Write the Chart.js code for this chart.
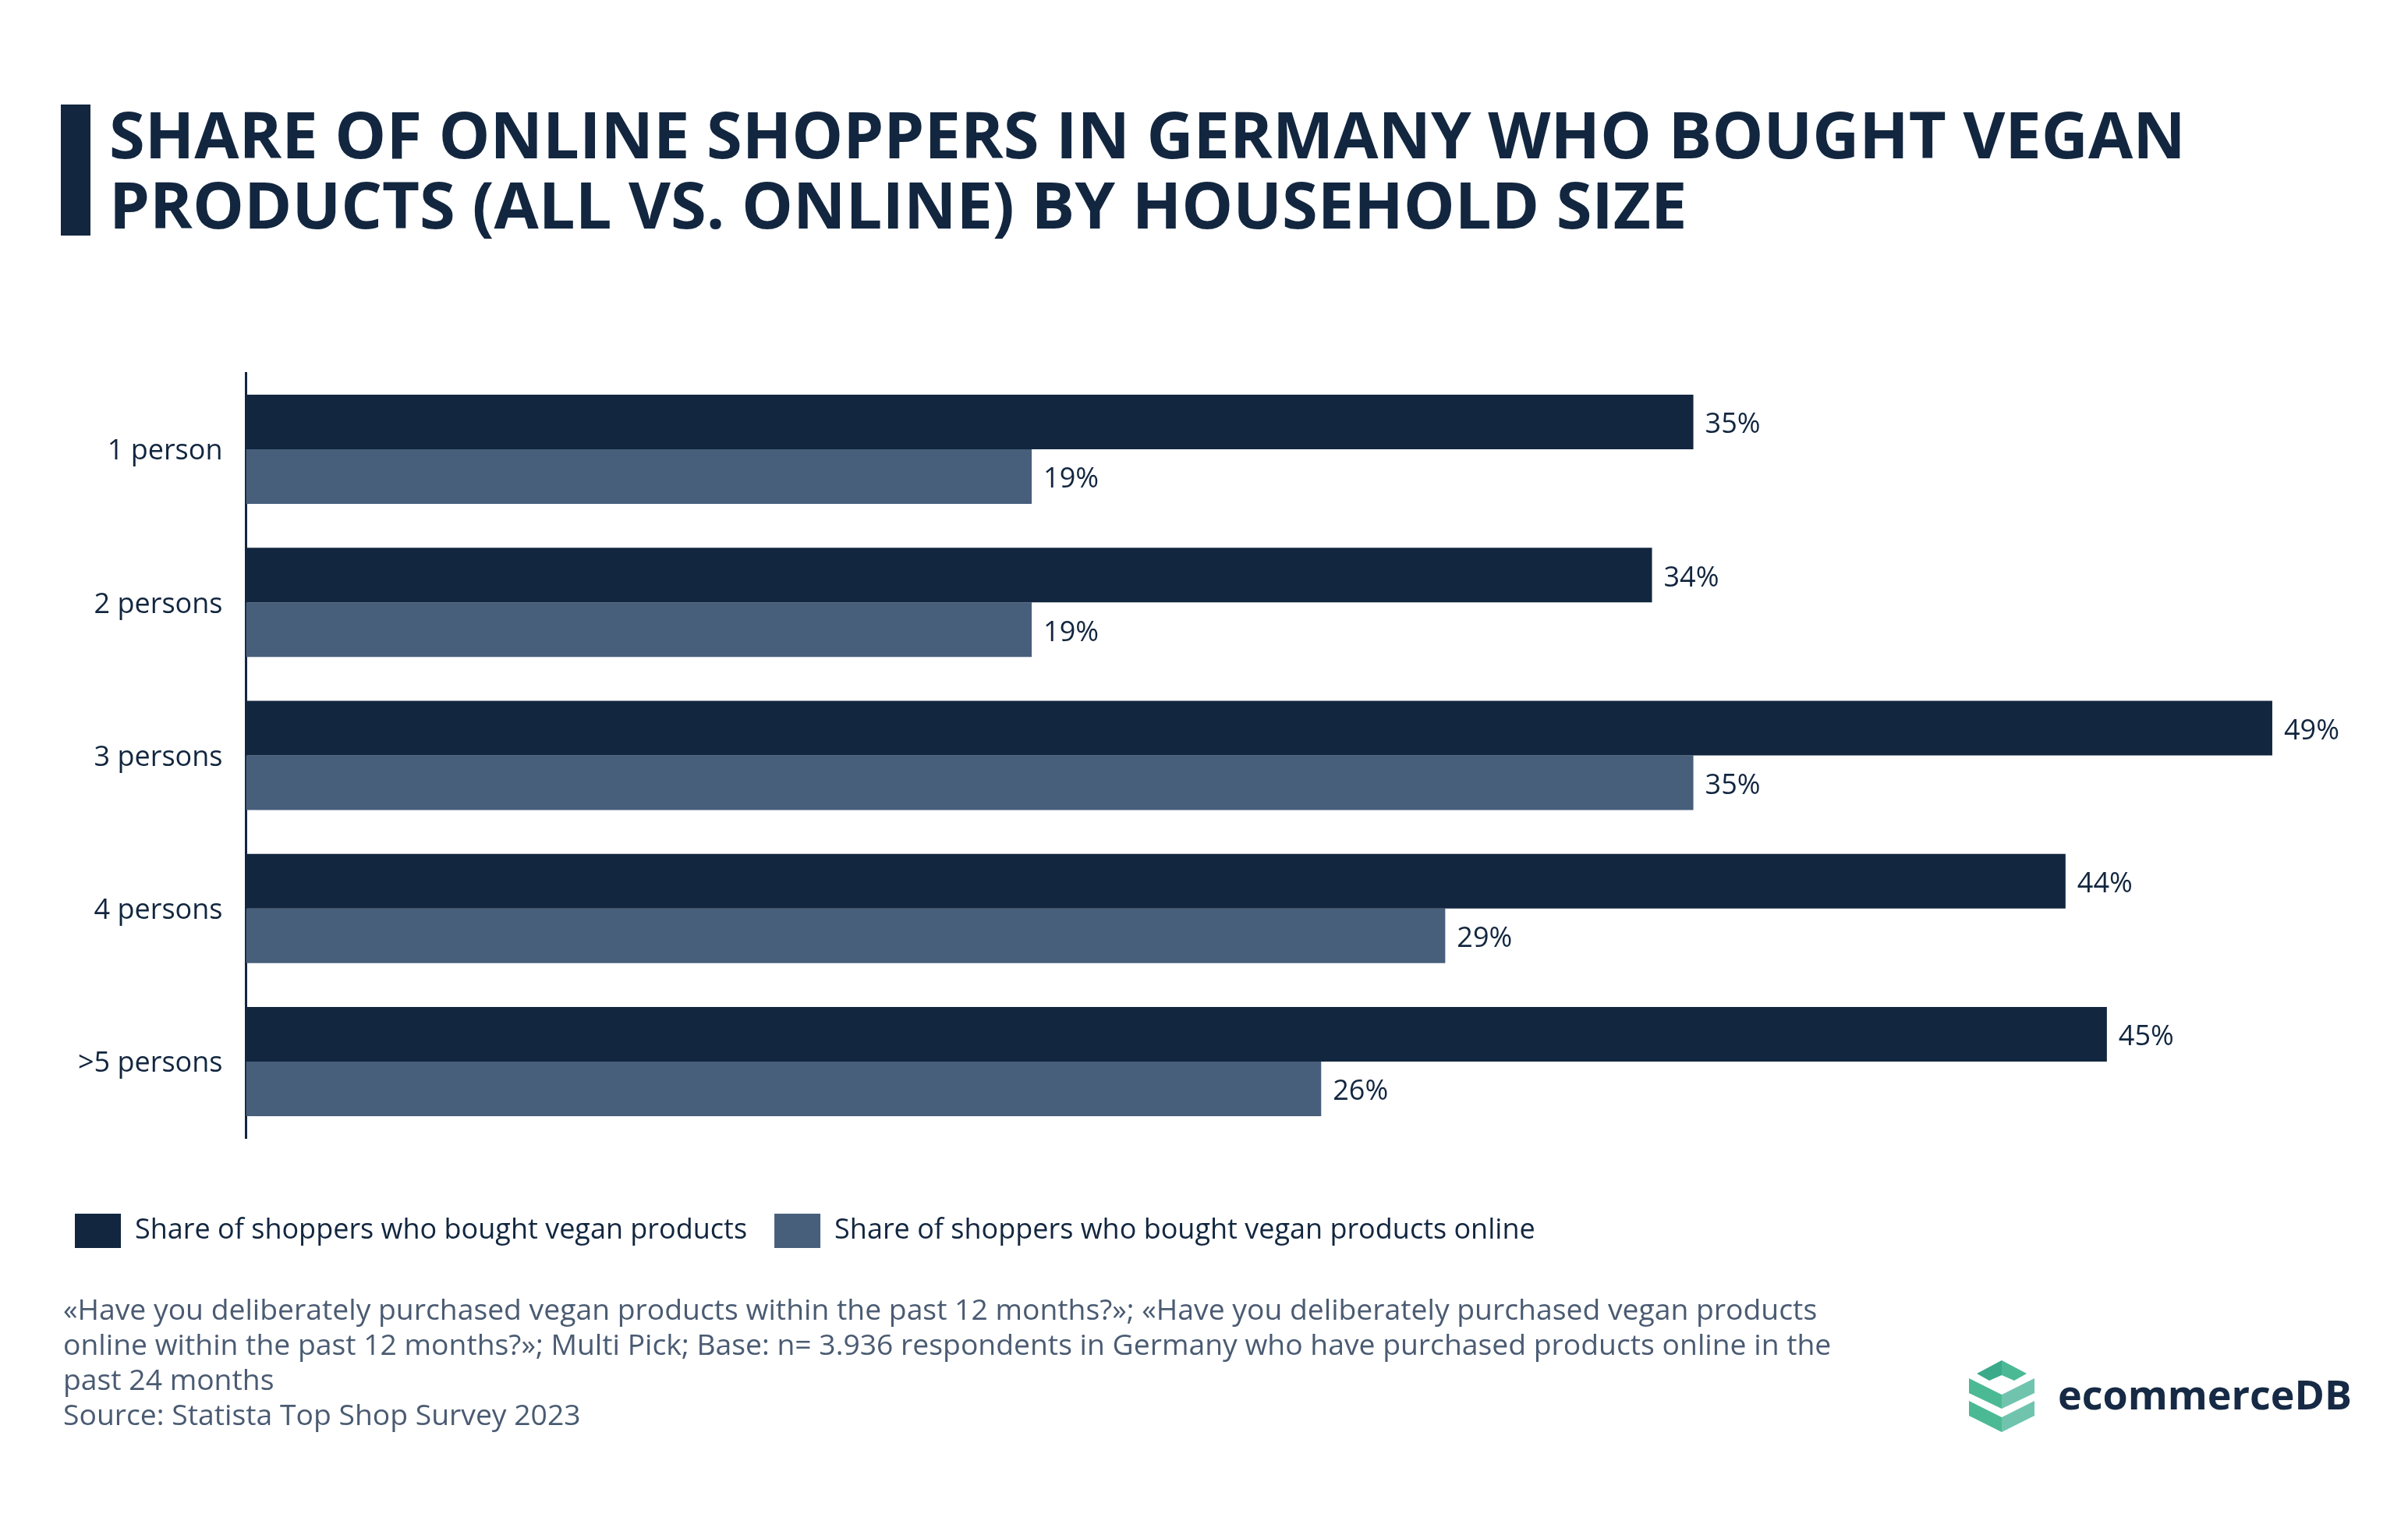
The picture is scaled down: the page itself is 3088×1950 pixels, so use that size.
<!DOCTYPE html>
<html>
<head>
<meta charset="utf-8">
<script src="https://cdn.jsdelivr.net/npm/chart.js@4.4.1/dist/chart.umd.min.js"></script>
<style>
  html, body { margin: 0; padding: 0; background: #ffffff; }
  body { width: 3088px; height: 1950px; position: relative; overflow: hidden; font-family: "Open Sans", sans-serif; }
  #chartWrap { position: absolute; left: 0; top: 0; width: 3088px; height: 1950px; }
  .titlebar { position: absolute; left: 78px; top: 134px; width: 38px; height: 168px; background: #12263f; }
  .title { position: absolute; left: 140px; top: 126px; font-size: 83px; font-weight: 700; line-height: 90px; color: #12263f; white-space: nowrap; }
  .foot { position: absolute; left: 81px; top: 1655px; font-size: 37.3px; line-height: 45px; color: #4a5b72; white-space: nowrap; }
  .logoText { position: absolute; left: 2639px; top: 1761px; font-size: 52px; line-height: 52px; font-weight: 700; color: #162a45; white-space: nowrap; }
  .logoIcon { position: absolute; left: 2520px; top: 1740px; }
</style>
</head>
<body>
<div id="chartWrap"><canvas id="c" width="3088" height="1950"></canvas></div>
<div class="titlebar"></div>
<div class="title">SHARE OF ONLINE SHOPPERS IN GERMANY WHO BOUGHT VEGAN<br>PRODUCTS (ALL VS. ONLINE) BY HOUSEHOLD SIZE</div>
<div class="foot">«Have you deliberately purchased vegan products within the past 12 months?»; «Have you deliberately purchased vegan products<br>online within the past 12 months?»; Multi Pick; Base: n= 3.936 respondents in Germany who have purchased products online in the<br>past 24 months<br>Source: Statista Top Shop Survey 2023</div>
<svg class="logoIcon" width="100" height="100" viewBox="2520 1740 100 100">
  <polygon points="2535,1761 2567,1744 2567,1763 2551,1770" fill="#3aaa8a"/>
  <polygon points="2567,1744 2599,1761 2583,1770 2567,1763" fill="#4cb995"/>
  <polygon points="2525,1767 2567,1788 2567,1806 2525,1786" fill="#4cb995"/>
  <polygon points="2567,1788 2609,1767 2609,1786 2567,1806" fill="#70c4ae"/>
  <polygon points="2525,1796 2567,1817 2567,1836 2525,1815" fill="#4cb995"/>
  <polygon points="2567,1817 2609,1796 2609,1815 2567,1836" fill="#70c4ae"/>
</svg>
<div class="logoText">ecommerceDB</div>
<script>
const categories = ["1 person", "2 persons", "3 persons", "4 persons", ">5 persons"];
const seriesNames = ["Share of shoppers who bought vegan products", "Share of shoppers who bought vegan products online"];
const allShoppers = [35, 34, 49, 44, 45];
const onlineShoppers = [19, 19, 35, 29, 26];
const seriesColors = ["#12263f", "#475f7b"];

const valueLabels = {
  id: 'valueLabels',
  afterDatasetsDraw(chart) {
    const ctx = chart.ctx;
    ctx.save();
    ctx.font = '36px "Open Sans"';
    ctx.fillStyle = '#12263f';
    ctx.textAlign = 'left';
    ctx.textBaseline = 'middle';
    chart.data.datasets.forEach((ds, di) => {
      const meta = chart.getDatasetMeta(di);
      meta.data.forEach((el, i) => {
        ctx.fillText(ds.data[i] + '%', el.x + 15, el.y + 4);
      });
    });
    ctx.restore();
  }
};

new Chart(document.getElementById('c'), {
  type: 'bar',
  data: {
    labels: categories,
    datasets: [
      { label: seriesNames[0], data: allShoppers, backgroundColor: seriesColors[0], categoryPercentage: 0.7136, barPercentage: 1.0 },
      { label: seriesNames[1], data: onlineShoppers, backgroundColor: seriesColors[1], categoryPercentage: 0.7136, barPercentage: 1.0 }
    ]
  },
  options: {
    indexAxis: 'y',
    responsive: false,
    animation: false,
    devicePixelRatio: 1,
    layout: { padding: { left: 61, right: 121, top: 478, bottom: 340 } },
    scales: {
      x: {
        min: 0, max: 50,
        display: true,
        grid: { display: false, drawTicks: false },
        border: { display: false },
        ticks: { display: false },
        afterFit(scale) { scale.height = 62; }
      },
      y: {
        grid: { display: false, drawTicks: false },
        border: { display: true, color: '#12263f', width: 3 },
        ticks: { color: '#12263f', font: { family: 'Open Sans', size: 36 }, padding: 30, labelOffset: 3 },
        afterFit(scale) { scale.width = 315.5 - 61; }
      }
    },
    plugins: {
      legend: {
        display: true,
        position: 'bottom',
        align: 'start',
        labels: {
          boxWidth: 59, boxHeight: 44, padding: 35,
          color: '#12263f',
          font: { family: 'Open Sans', size: 36 }
        }
      },
      tooltip: { enabled: false }
    }
  },
  plugins: [valueLabels]
});
</script>
</body>
</html>
